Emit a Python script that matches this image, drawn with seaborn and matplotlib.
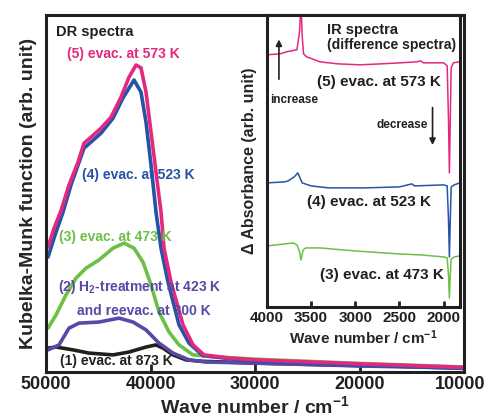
"""DR spectra (Kubelka-Munk) with IR difference spectra inset"""

# import modules
import matplotlib
matplotlib.use('Agg')
import matplotlib.pyplot as plt
import matplotlib.transforms as mtransforms
import seaborn as sns

# data: DR spectra (wave number / cm-1, Kubelka-Munk function in arb. unit)
dr_wn_1 = [49810, 49043, 47416, 45885, 43589, 42058, 40431, 39474, 38804, 37847,
           36603, 35000, 30000, 20000, 10000]
dr_km_1 = [6.7, 7.0, 6.2, 5.3, 4.8, 5.6, 7.0, 7.6, 6.7, 4.8,
           3.4, 3.0, 2.5, 1.8, 1.3]

dr_wn_2 = [49810, 48756, 47800, 46842, 44928, 43015, 41675, 40431, 39187, 37847,
           36316, 34689, 30000, 20000, 10000]
dr_km_2 = [6.2, 7.6, 12.3, 13.7, 14.0, 15.1, 14.0, 11.8, 8.1, 5.3,
           3.4, 2.8, 2.5, 1.7, 1.1]

dr_wn_3 = [49810, 49043, 48086, 47129, 46172, 44928, 43589, 42536, 41579, 40718,
           39952, 39187, 38230, 37273, 35934, 34000, 30000, 20000, 10000]
dr_km_3 = [12.3, 16.0, 21.6, 26.3, 29.1, 31.4, 34.7, 36.1, 34.7, 30.8,
           24.4, 16.8, 11.2, 7.6, 4.8, 4.3, 3.6, 2.4, 1.4]

dr_wn_4 = [49810, 49043, 48373, 47608, 46364, 44737, 43589, 42632, 41579, 40910,
           40431, 39952, 39474, 38995, 38326, 37273, 36316, 35000, 32000, 30000,
           20000, 10000]
dr_km_4 = [32.2, 39.2, 44.8, 52.4, 62.7, 66.9, 71.1, 76.8, 81.8, 78.4,
           70.0, 58.0, 44.8, 34.7, 25.2, 13.2, 8.1, 4.6, 3.6, 3.1,
           2.0, 1.0]

dr_wn_5 = [49810, 49230, 48565, 47800, 46938, 46364, 45694, 44737, 43780, 42823,
           42058, 41388, 40910, 40431, 39952, 39474, 38995, 38708, 38039, 36890,
           35934, 34881, 32393, 30000, 20000, 10000]
dr_km_5 = [35.0, 40.3, 45.2, 52.4, 58.8, 64.1, 65.8, 68.3, 71.4, 77.0,
           82.6, 86.0, 85.2, 78.4, 67.2, 56.0, 44.8, 34.7, 25.2, 13.2,
           7.6, 4.8, 3.9, 3.4, 2.3, 1.3]

# data: IR difference spectra (wave number / cm-1, delta absorbance in arb. unit)
ir_wn_3 = [4000, 3800, 3700, 3660, 3630, 3614, 3590, 3560, 3400, 3000,
           2500, 2250, 2000, 1960, 1945, 1935, 1925, 1915, 1880, 1820]
ir_abs_3 = [6.1, 6.3, 6.4, 6.2, 5.5, 4.7, 5.7, 5.9, 5.9, 5.6,
            5.3, 5.2, 5.0, 4.9, 3.2, 0.9, 3.2, 4.8, 5.0, 5.1]

ir_wn_4 = [4000, 3800, 3760, 3690, 3650, 3600, 3500, 3300, 2900, 2500,
           2360, 2330, 2000, 1960, 1945, 1935, 1925, 1915, 1880, 1820]
ir_abs_4 = [12.4, 12.5, 12.6, 13.0, 13.4, 12.4, 12.1, 11.9, 11.9, 12.0,
            12.3, 12.1, 12.2, 12.1, 8.7, 5.0, 8.7, 12.0, 12.2, 12.4]

ir_wn_5 = [4000, 3850, 3780, 3720, 3660, 3630, 3614, 3600, 3585, 3550,
           3400, 3200, 2950, 2700, 2490, 2300, 2260, 2230, 2000, 1960,
           1945, 1935, 1925, 1915, 1890, 1820]
ir_abs_5 = [25.2, 25.3, 25.5, 25.6, 25.7, 27.5, 30.5, 27.0, 25.3, 25.0,
            24.5, 24.3, 24.2, 24.3, 24.4, 24.5, 24.6, 24.4, 24.4, 24.1,
            18.7, 13.4, 18.7, 23.9, 24.4, 24.5]

dr_xticks = [50000, 40000, 30000, 20000, 10000]
ir_xticks = [4000, 3500, 3000, 2500, 2000]

# colours
c1 = '#231f20'
c2 = '#5a48a6'
c3 = '#6cbf47'
c4 = '#2553a5'
c5 = '#e5287f'

# style
sns.set_style('ticks')
plt.rcParams['font.family'] = ['Liberation Sans', 'DejaVu Sans']
plt.rcParams['font.weight'] = 'bold'
plt.rcParams['mathtext.fontset'] = 'custom'
plt.rcParams['mathtext.rm'] = 'Liberation Sans:bold'
plt.rcParams['mathtext.bf'] = 'Liberation Sans:bold'
plt.rcParams['mathtext.default'] = 'bf'
plt.rcParams['text.color'] = c1

fig = plt.figure(figsize=(4.87, 4.18), dpi=100)

# main axes: DR spectra
ax = fig.add_axes([0.0945, 0.110, 0.8583, 0.854])
for wn, km, col in [(dr_wn_1, dr_km_1, c1), (dr_wn_2, dr_km_2, c2), (dr_wn_3, dr_km_3, c3),
                    (dr_wn_4, dr_km_4, c4), (dr_wn_5, dr_km_5, c5)]:
    sns.lineplot(x=wn, y=km, ax=ax, color=col, lw=2.6,
                 solid_capstyle='round', solid_joinstyle='round')
ax.set_xlim(50000, 10000)
ax.set_ylim(0, 100)
ax.set_xticks(dr_xticks)
ax.set_xticklabels([str(t) for t in dr_xticks], fontsize=13, fontweight='bold')
ax.set_yticks([])
ax.tick_params(axis='x', direction='in', length=6, width=2, pad=3, colors=c1)
for sp in ax.spines.values():
    sp.set_linewidth(2.2)
    sp.set_color(c1)
# nudge the last tick label a bit left so it stays inside the figure
last_lab = ax.get_xticklabels()[-1]
last_lab.set_transform(last_lab.get_transform() +
                       mtransforms.ScaledTranslation(-3 / 72, 0, fig.dpi_scale_trans))
ax.set_xlabel(r'Wave number / cm$^{-1}$', fontsize=14, fontweight='bold')
ax.set_ylabel('Kubelka-Munk function (arb. unit)', fontsize=14, fontweight='bold')
ax.xaxis.set_label_coords(0.5, -0.066)
ax.yaxis.set_label_coords(-0.022, 0.5)

# labels on the DR curves
ax.text(49043, 95.2, 'DR spectra', fontsize=10.5, fontweight='bold', color=c1, va='center')
ax.text(47990, 89.1, '(5) evac. at 573 K', fontsize=10, fontweight='bold', color=c5, va='center')
ax.text(46555, 55.2, '(4) evac. at 523 K', fontsize=10, fontweight='bold', color=c4, va='center')
ax.text(48756, 37.8, '(3) evac. at 473 K', fontsize=10, fontweight='bold', color=c3, va='center')
ax.text(48852, 23.8, r'(2) H$_2$-treatment at 423 K', fontsize=10, fontweight='bold', color=c2, va='center')
ax.text(47034, 17.1, 'and reevac. at 300 K', fontsize=10, fontweight='bold', color=c2, va='center')
ax.text(48660, 3.1, '(1) evac. at 873 K', fontsize=10, fontweight='bold', color=c1, va='center')

# inset axes: IR difference spectra
ins = fig.add_axes([0.548, 0.2656, 0.396, 0.699])
ins.set_facecolor('white')
for wn, ab, col in [(ir_wn_3, ir_abs_3, c3), (ir_wn_4, ir_abs_4, c4), (ir_wn_5, ir_abs_5, c5)]:
    sns.lineplot(x=wn, y=ab, ax=ins, color=col, lw=1.1)
ins.set_xlim(4000, 1818)
ins.set_ylim(0, 29.2)
ins.set_xticks(ir_xticks)
ins.set_xticklabels([str(t) for t in ir_xticks], fontsize=11, fontweight='bold')
ins.set_yticks([])
ins.tick_params(axis='x', direction='in', length=4.5, width=2, pad=3, colors=c1)
for sp in ins.spines.values():
    sp.set_linewidth(2.2)
    sp.set_color(c1)
ins.set_xlabel(r'Wave number / cm$^{-1}$', fontsize=11, fontweight='bold')
ins.set_ylabel('Δ Absorbance (arb. unit)', fontsize=11.5, fontweight='bold')
ins.xaxis.set_label_coords(0.5, -0.072)
ins.yaxis.set_label_coords(-0.052, 0.5)

ins.text(0.3125, 0.949, 'IR spectra', transform=ins.transAxes, fontsize=10.5, fontweight='bold', va='center')
ins.text(0.3125, 0.897, '(difference spectra)', transform=ins.transAxes, fontsize=10, fontweight='bold', va='center')
ins.text(0.26, 0.771, '(5) evac. at 573 K', transform=ins.transAxes, fontsize=11, fontweight='bold', va='center')
ins.text(0.208, 0.36, '(4) evac. at 523 K', transform=ins.transAxes, fontsize=11, fontweight='bold', va='center')
ins.text(0.276, 0.11, '(3) evac. at 473 K', transform=ins.transAxes, fontsize=11, fontweight='bold', va='center')
ins.text(0.016, 0.709, 'increase', transform=ins.transAxes, fontsize=8.5, fontweight='bold', va='center')
ins.text(0.568, 0.623, 'decrease', transform=ins.transAxes, fontsize=8.5, fontweight='bold', va='center')

# arrows
ins.annotate('', xy=(0.0625, 0.925), xytext=(0.0625, 0.77), xycoords='axes fraction',
             arrowprops=dict(arrowstyle='-|>', color=c1, lw=1.2, mutation_scale=9))
ins.annotate('', xy=(0.859, 0.545), xytext=(0.859, 0.692), xycoords='axes fraction',
             arrowprops=dict(arrowstyle='-|>', color=c1, lw=1.2, mutation_scale=9))

plt.savefig('out.png', dpi=100)
